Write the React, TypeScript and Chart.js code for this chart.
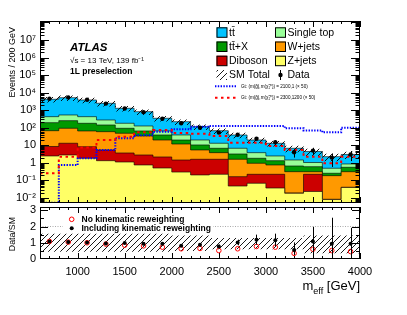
import React, { useEffect, useRef } from 'react';
import { Chart, registerables } from 'chart.js';

Chart.register(...registerables);

const FONT = "'Liberation Sans', Arial, Helvetica, sans-serif";

// ---------------- data ----------------
const binEdges = [600, 800, 1000, 1200, 1400, 1600, 1800, 2000, 2200, 2400, 2600, 2800, 3000, 3200, 3400, 3600, 3800, 4000];

// background components (events / 200 GeV), stacked bottom -> top
const zJets = [2.47, 2.82, 1.83, 1.33, 1.12, 0.76, 0.51, 0.3, 0.205, 0.224, 0.048, 0.069, 0.037, 0.0186, 0.0235, 0.0082, 0.04];
const diboson = [6.1, 10.3, 6.54, 4.1, 2.54, 2.06, 1.66, 1.16, 1.4, 1.38, 0.116, 0.155, 0.187, 0.0007, 0.2, 0.0003, 0.0008];
const wJets = [59.4, 80.3, 57.2, 54.4, 44.8, 31.2, 17.9, 10.4, 3.83, 2.21, 1.44, 0.725, 0.535, 0.296, 0.091, 0.179, 0.274];
const ttbarX = [127, 160, 114, 84, 44.9, 31.6, 18.7, 8.2, 5.07, 2.97, 1.61, 0.88, 0.57, 0.351, 0.293, 0.069, 0.246];
const singleTop = [233, 281, 248, 133, 86.6, 60.4, 26.8, 18.7, 9.6, 6.32, 3.57, 1.98, 1.14, 0.794, 0.442, 0.237, 0.305];
const ttbar = [3762, 4626, 3392, 2200, 1106, 698, 281, 183, 95, 55.1, 32.0, 16.3, 10.6, 5.32, 3.41, 1.76, 2.14];

const dataCounts = [4525, 5366, 3896, 2378, 1260, 775, 326, 180, 101, 53, 40, 24, 15, 4, 5, 2, 3];

// relative SM uncertainty shown as hatched band in the upper panel
const smUncRel = [0.35, 0.35, 0.35, 0.35, 0.35, 0.35, 0.35, 0.35, 0.35, 0.35, 0.35, 0.35, 0.35, 0.4, 0.45, 0.45, 0.45];

// signals (x 50)
const signalGt2100 = [0.0053, 0.76, 1.83, 5.4, 25, 38, 60, 82, 115, 126, 126, 126, 126, 94, 69, 55, 101];
const signalGt2300 = [0.26, 2.25, 7.5, 20, 31, 55, 75, 50, 46, 34, 14.2, 14.2, 9.2, 5.4, 2.25, 0.95, 2.25];

// ratio panel
const ratioReweighted = [1.08, 1.04, 1.02, 0.96, 0.98, 0.94, 0.94, 0.81, 0.875, 0.77, 1.02, 1.19, 1.15, 0.56, 1.08, 0.94, 0.94];
const ratioErrUp = [0.02, 0.02, 0.02, 0.025, 0.03, 0.04, 0.06, 0.07, 0.1, 0.12, 0.17, 0.31, 0.41, 0.46, 0.9, 1.6, 0.98];
const ratioErrDown = [0.02, 0.02, 0.02, 0.025, 0.03, 0.04, 0.06, 0.07, 0.1, 0.12, 0.17, 0.31, 0.38, 0.31, 0.73, 0.9, 0.9];
const ratioNoReweight = [1.08, 1.04, 1.0, 0.92, 0.85, 0.81, 0.73, 0.63, 0.65, 0.52, 0.63, 0.77, 0.73, 0.35, 0.6, 0.52, 0.46];
const ratioBandLo = [0.45, 0.45, 0.45, 0.45, 0.45, 0.45, 0.45, 0.5, 0.5, 0.6, 0.6, 0.6, 0.6, 0.6, 0.35, 0.35, 0.35];
const ratioBandHi = [1.55, 1.55, 1.55, 1.55, 1.55, 1.55, 1.55, 1.45, 1.45, 1.3, 1.3, 1.3, 1.3, 1.3, 1.45, 1.45, 1.45];

// axis ticks
const yTicksMain = [1e-2, 1e-1, 1, 10, 1e2, 1e3, 1e4, 1e5, 1e6, 1e7];
const xTickLabels = [1000, 1500, 2000, 2500, 3000, 3500, 4000];
const yTicksRatio = [0, 1, 2, 3];

const layerNames = ['Z+jets', 'Diboson', 'W+jets', 'tt\u0304+X', 'Single top', 'tt\u0304'];
const layerColors = ['#ffff66', '#cc0000', '#ff9900', '#009900', '#99ff99', '#00c3ff'];
const layers = [zJets, diboson, wJets, ttbarX, singleTop, ttbar];

// ---------------- helpers ----------------
const X_MIN = 600;
const X_MAX = 4000;
const Y_MIN = 0.00519;
const Y_MAX = 1.2e8;

const binCenters = binEdges.slice(0, -1).map((e, i) => (e + binEdges[i + 1]) / 2);
const steps = (vals: number[]) => binEdges.map((x, i) => ({ x, y: vals[Math.min(i, vals.length - 1)] }));

const cumulative: number[][] = [];
{
  let run = new Array(binCenters.length).fill(0);
  layers.forEach((l) => {
    run = run.map((v: number, i: number) => v + l[i]);
    cumulative.push(run);
  });
}
const smTotal = cumulative[cumulative.length - 1];

const SUP: Record<string, string> = { '-': '\u207b', '0': '\u2070', '1': '\u00b9', '2': '\u00b2', '3': '\u00b3', '4': '\u2074', '5': '\u2075', '6': '\u2076', '7': '\u2077', '8': '\u2078', '9': '\u2079' };
function logLabel(v: number) {
  const e = Math.round(Math.log10(v));
  if (e === 0) return '1';
  if (e === 1) return '10';
  return '10' + String(e).split('').map((c) => SUP[c]).join('');
}

function makeHatch(): any {
  const c = document.createElement('canvas');
  c.width = 6;
  c.height = 6;
  const g = c.getContext('2d')!;
  g.strokeStyle = '#000';
  g.lineWidth = 0.9;
  g.beginPath();
  g.moveTo(-1, 7);
  g.lineTo(7, -1);
  g.moveTo(-1, 1);
  g.lineTo(1, -1);
  g.moveTo(5, 7);
  g.lineTo(7, 5);
  g.stroke();
  return g.createPattern(c, 'repeat');
}

interface TickCfg {
  xMajor: number;
  xMinor: number;
  yMajor: number;
  yMinor: number;
  yTicks: [number, boolean][];
}

function drawFrameAndTicks(chart: any, cfg: TickCfg) {
  const { ctx, chartArea: a } = chart;
  const xs = chart.scales.x;
  const ys = chart.scales.y;
  ctx.save();
  ctx.strokeStyle = '#000';
  ctx.lineWidth = 1;
  ctx.beginPath();
  for (let v = X_MIN; v <= X_MAX; v += 100) {
    const px = Math.round(xs.getPixelForValue(v)) + 0.5;
    const len = v % 500 === 0 ? cfg.xMajor : cfg.xMinor;
    ctx.moveTo(px, a.bottom);
    ctx.lineTo(px, a.bottom - len);
    ctx.moveTo(px, a.top);
    ctx.lineTo(px, a.top + len);
  }
  cfg.yTicks.forEach(([v, major]) => {
    const py = Math.round(ys.getPixelForValue(v)) + 0.5;
    if (py < a.top || py > a.bottom) return;
    const len = major ? cfg.yMajor : cfg.yMinor;
    ctx.moveTo(a.left, py);
    ctx.lineTo(a.left + len, py);
    ctx.moveTo(a.right, py);
    ctx.lineTo(a.right - len, py);
  });
  ctx.stroke();
  ctx.strokeRect(a.left + 0.5, a.top + 0.5, a.right - a.left - 1, a.bottom - a.top - 1);
  ctx.restore();
}

function drawVerticalTitle(ctx: any, text: string, x: number, yEnd: number, size: number) {
  ctx.save();
  ctx.translate(x, yEnd);
  ctx.rotate(-Math.PI / 2);
  ctx.font = `${size}px ${FONT}`;
  ctx.fillStyle = '#000';
  ctx.textAlign = 'right';
  ctx.textBaseline = 'alphabetic';
  ctx.fillText(text, 0, 0);
  ctx.restore();
}

// ---------------- main panel ----------------
function mainConfig(hatch: any): any {
  const datasets: any[] = [];
  for (let k = layers.length - 1; k >= 0; k--) {
    datasets.push({
      label: layerNames[k],
      data: steps(cumulative[k]),
      backgroundColor: layerColors[k],
      borderColor: 'rgba(0,0,0,0.6)',
      borderWidth: 1,
      fill: 'start',
      stepped: true,
      pointRadius: 0,
      order: 20 + k,
    });
  }
  const lowerIndex = datasets.length;
  datasets.push({
    label: 'bandLo',
    data: steps(smTotal.map((v, i) => v * (1 - smUncRel[i]))),
    borderWidth: 0,
    borderColor: 'rgba(0,0,0,0)',
    fill: false,
    stepped: true,
    pointRadius: 0,
    order: 10,
  });
  datasets.push({
    label: 'SM Total',
    data: steps(smTotal.map((v, i) => v * (1 + smUncRel[i]))),
    borderWidth: 0,
    borderColor: 'rgba(0,0,0,0)',
    backgroundColor: hatch,
    fill: { target: lowerIndex },
    stepped: true,
    pointRadius: 0,
    order: 10,
  });
  datasets.push({
    label: 'Gt 2100,1',
    data: steps(signalGt2100),
    borderColor: '#0000ff',
    borderWidth: 2,
    borderDash: [1.4, 1.4],
    fill: false,
    stepped: true,
    pointRadius: 0,
    order: 5,
  });
  datasets.push({
    label: 'Gt 2300,1200',
    data: steps(signalGt2300),
    borderColor: '#ff0000',
    borderWidth: 2,
    borderDash: [2.5, 3.5],
    fill: false,
    stepped: true,
    pointRadius: 0,
    order: 4,
  });
  datasets.push({
    label: 'Data',
    data: binCenters.map((x, i) => ({ x, y: dataCounts[i] })),
    showLine: false,
    pointRadius: 2.2,
    pointBackgroundColor: '#000',
    pointBorderWidth: 0,
    order: 0,
  });

  const minorLog: [number, boolean][] = [];
  for (let e = -3; e <= 8; e++) {
    for (let m = 1; m <= 9; m++) minorLog.push([m * Math.pow(10, e), m === 1]);
  }

  const decor = {
    id: 'mainDecor',
    beforeDatasetDraw(chart: any, args: any) {
      const ds = chart.data.datasets[args.index];
      if (ds.label !== 'Data') return;
      const { ctx, chartArea: a } = chart;
      const xs = chart.scales.x;
      const ys = chart.scales.y;
      ctx.save();
      ctx.beginPath();
      ctx.rect(a.left, a.top, a.right - a.left, a.bottom - a.top);
      ctx.clip();
      ctx.strokeStyle = '#000';
      ctx.lineWidth = 1;
      ctx.beginPath();
      binCenters.forEach((c, i) => {
        const n = dataCounts[i];
        const s = Math.sqrt(n);
        const px = Math.round(xs.getPixelForValue(c)) + 0.5;
        ctx.moveTo(px, ys.getPixelForValue(n + s));
        ctx.lineTo(px, ys.getPixelForValue(Math.max(n - s, Y_MIN)));
      });
      ctx.stroke();
      ctx.restore();
    },
    afterDraw(chart: any) {
      const { ctx } = chart;
      drawFrameAndTicks(chart, { xMajor: 6, xMinor: 3, yMajor: 9, yMinor: 4.5, yTicks: minorLog });

      ctx.save();
      ctx.fillStyle = '#000';
      ctx.textBaseline = 'alphabetic';
      ctx.textAlign = 'left';
      ctx.font = `italic bold 11.5px ${FONT}`;
      ctx.fillText('ATLAS', 70, 50.5);
      ctx.font = `8px ${FONT}`;
      ctx.fillText('\u221as = 13 TeV, 139 fb\u207b\u00b9', 70, 62.5);
      ctx.font = `bold 8.5px ${FONT}`;
      ctx.fillText('1L preselection', 70, 74);

      // legend
      const col1 = 216.5;
      const col2 = 275;
      const rows = [32.3, 46.5, 60.7, 75, 86.3, 97.7];
      const boxes: [number, number, number][] = [
        [col1, rows[0], 5],
        [col2, rows[0], 4],
        [col1, rows[1], 3],
        [col2, rows[1], 2],
        [col1, rows[2], 1],
        [col2, rows[2], 0],
      ];
      ctx.font = `10.5px ${FONT}`;
      ctx.textBaseline = 'middle';
      boxes.forEach(([x, y, k]) => {
        ctx.fillStyle = layerColors[k];
        ctx.fillRect(x, y - 5, 10.5, 10);
        ctx.strokeStyle = '#000';
        ctx.lineWidth = 1;
        ctx.strokeRect(x + 0.5, y - 4.5, 10, 9.5);
        ctx.fillStyle = '#000';
        ctx.fillText(layerNames[k], x + 12.5, y + 0.5);
      });
      // SM total
      ctx.fillStyle = hatch;
      ctx.fillRect(col1, rows[3] - 5, 10.5, 10);
      ctx.fillStyle = '#000';
      ctx.fillText('SM Total', col1 + 12.5, rows[3] + 0.5);
      // Data
      ctx.strokeStyle = '#000';
      ctx.beginPath();
      ctx.moveTo(col2 + 5.5, rows[3] - 5);
      ctx.lineTo(col2 + 5.5, rows[3] + 5);
      ctx.stroke();
      ctx.beginPath();
      ctx.arc(col2 + 5.5, rows[3], 2.2, 0, Math.PI * 2);
      ctx.fill();
      ctx.fillText('Data', col2 + 12.5, rows[3] + 0.5);
      // signals
      ctx.lineWidth = 2;
      ctx.strokeStyle = '#0000ff';
      ctx.setLineDash([1.4, 1.4]);
      ctx.beginPath();
      ctx.moveTo(215, rows[4]);
      ctx.lineTo(236, rows[4]);
      ctx.stroke();
      ctx.strokeStyle = '#ff0000';
      ctx.setLineDash([2.5, 3.5]);
      ctx.beginPath();
      ctx.moveTo(215, rows[5]);
      ctx.lineTo(236, rows[5]);
      ctx.stroke();
      ctx.setLineDash([]);
      ctx.font = `4.6px ${FONT}`;
      ctx.fillStyle = '#000';
      ctx.fillText('Gt: (m(g\u0303),m(\u03c7\u0303\u2081\u2070)) = 2100,1 (\u00d7 50)', 241, rows[4]);
      ctx.fillText('Gt: (m(g\u0303),m(\u03c7\u0303\u2081\u2070)) = 2300,1200 (\u00d7 50)', 241, rows[5]);
      ctx.restore();

      drawVerticalTitle(ctx, 'Events / 200 GeV', 15, 27, 9);
    },
  };

  return {
    type: 'line',
    data: { datasets },
    options: {
      responsive: false,
      animation: false,
      events: [],
      layout: { padding: { top: 21, right: 47, bottom: 112, left: 0 } },
      plugins: { legend: { display: false }, tooltip: { enabled: false } },
      scales: {
        x: { type: 'linear', min: X_MIN, max: X_MAX, display: false },
        y: {
          type: 'logarithmic',
          min: Y_MIN,
          max: Y_MAX,
          position: 'left',
          afterFit: (s: any) => {
            s.width = 40;
          },
          afterBuildTicks: (s: any) => {
            s.ticks = yTicksMain.map((v) => ({ value: v }));
          },
          ticks: {
            autoSkip: false,
            padding: 4,
            color: '#000',
            font: { family: FONT, size: 11 },
            callback: (v: any) => logLabel(Number(v)),
          },
          grid: { display: false, drawTicks: false },
          border: { display: false },
        },
      },
    },
    plugins: [decor],
  };
}

// ---------------- ratio panel ----------------
function ratioConfig(hatch: any): any {
  const datasets: any[] = [
    {
      label: 'bandLo',
      data: steps(ratioBandLo),
      borderWidth: 0,
      borderColor: 'rgba(0,0,0,0)',
      fill: false,
      stepped: true,
      pointRadius: 0,
      order: 10,
    },
    {
      label: 'bandHi',
      data: steps(ratioBandHi),
      borderWidth: 0,
      borderColor: 'rgba(0,0,0,0)',
      backgroundColor: hatch,
      fill: { target: 0 },
      stepped: true,
      pointRadius: 0,
      order: 10,
    },
    {
      label: 'ref2',
      data: [
        { x: X_MIN, y: 2 },
        { x: X_MAX, y: 2 },
      ],
      borderColor: '#aaaaaa',
      borderWidth: 1,
      borderDash: [1, 1.5],
      fill: false,
      pointRadius: 0,
      order: 9,
    },
    {
      label: 'noRW',
      data: binCenters.map((x, i) => ({ x, y: ratioNoReweight[i] })),
      showLine: false,
      pointRadius: 2.3,
      pointBorderColor: '#ff0000',
      pointBackgroundColor: 'rgba(255,255,255,0)',
      pointBorderWidth: 1,
      order: 3,
    },
    {
      label: 'RW',
      data: binCenters.map((x, i) => ({ x, y: ratioReweighted[i] })),
      showLine: false,
      pointRadius: 2,
      pointBackgroundColor: '#000',
      pointBorderWidth: 0,
      order: 1,
    },
  ];

  const yTicks: [number, boolean][] = [];
  for (let v = 0; v <= 3.2; v += 0.5) yTicks.push([v, Math.abs(v - Math.round(v)) < 1e-6]);

  const decor = {
    id: 'ratioDecor',
    beforeDatasetDraw(chart: any, args: any) {
      const ds = chart.data.datasets[args.index];
      if (ds.label !== 'RW') return;
      const { ctx, chartArea: a } = chart;
      const xs = chart.scales.x;
      const ys = chart.scales.y;
      ctx.save();
      ctx.beginPath();
      ctx.rect(a.left, a.top, a.right - a.left, a.bottom - a.top);
      ctx.clip();
      ctx.strokeStyle = '#000';
      ctx.lineWidth = 1;
      ctx.beginPath();
      binCenters.forEach((c, i) => {
        const px = Math.round(xs.getPixelForValue(c)) + 0.5;
        ctx.moveTo(px, ys.getPixelForValue(ratioReweighted[i] + ratioErrUp[i]));
        ctx.lineTo(px, ys.getPixelForValue(ratioReweighted[i] - ratioErrDown[i]));
      });
      ctx.stroke();
      ctx.restore();
    },
    afterDraw(chart: any) {
      const { ctx } = chart;
      drawFrameAndTicks(chart, { xMajor: 6, xMinor: 3, yMajor: 8, yMinor: 4, yTicks });

      // legend
      ctx.save();
      ctx.fillStyle = '#fff';
      ctx.fillRect(63, 213, 150, 20);
      ctx.strokeStyle = '#ff0000';
      ctx.lineWidth = 1;
      ctx.beginPath();
      ctx.arc(71.7, 219.3, 2.3, 0, Math.PI * 2);
      ctx.stroke();
      ctx.fillStyle = '#000';
      ctx.beginPath();
      ctx.arc(71.7, 228.3, 2, 0, Math.PI * 2);
      ctx.fill();
      ctx.font = `bold 8.5px ${FONT}`;
      ctx.textBaseline = 'middle';
      ctx.textAlign = 'left';
      ctx.fillText('No kinematic reweighting', 81.5, 219.8);
      ctx.fillText('Including kinematic reweighting', 81.5, 228.8);

      // x title: m_eff [GeV]
      const big = `13px ${FONT}`;
      const small = `9px ${FONT}`;
      ctx.textBaseline = 'alphabetic';
      ctx.font = big;
      const wM = ctx.measureText('m').width;
      const wG = ctx.measureText(' [GeV]').width;
      ctx.font = small;
      const wS = ctx.measureText('eff').width;
      let x = 360 - (wM + wS + wG);
      ctx.font = big;
      ctx.fillText('m', x, 290);
      x += wM;
      ctx.font = small;
      ctx.fillText('eff', x, 293.5);
      x += wS;
      ctx.font = big;
      ctx.fillText(' [GeV]', x, 290);
      ctx.restore();

      drawVerticalTitle(ctx, 'Data/SM', 15, 217, 8.8);
    },
  };

  return {
    type: 'line',
    data: { datasets },
    options: {
      responsive: false,
      animation: false,
      events: [],
      layout: { padding: { top: 207, right: 47, bottom: 0, left: 0 } },
      plugins: { legend: { display: false }, tooltip: { enabled: false } },
      scales: {
        x: {
          type: 'linear',
          min: X_MIN,
          max: X_MAX,
          position: 'bottom',
          afterFit: (s: any) => {
            s.height = 56;
          },
          afterBuildTicks: (s: any) => {
            s.ticks = xTickLabels.map((v) => ({ value: v }));
          },
          ticks: {
            autoSkip: false,
            maxRotation: 0,
            padding: 6,
            color: '#000',
            font: { family: FONT, size: 11 },
            callback: (v: any) => String(v),
          },
          grid: { display: false, drawTicks: false },
          border: { display: false },
        },
        y: {
          type: 'linear',
          min: 0,
          max: 3.2,
          position: 'left',
          afterFit: (s: any) => {
            s.width = 40;
          },
          afterBuildTicks: (s: any) => {
            s.ticks = yTicksRatio.map((v) => ({ value: v }));
          },
          ticks: {
            autoSkip: false,
            padding: 4,
            color: '#000',
            font: { family: FONT, size: 11 },
            callback: (v: any) => String(v),
          },
          grid: { display: false, drawTicks: false },
          border: { display: false },
        },
      },
    },
    plugins: [decor],
  };
}

export default function App() {
  const mainRef = useRef<HTMLCanvasElement>(null);
  const ratioRef = useRef<HTMLCanvasElement>(null);
  useEffect(() => {
    const hatch = makeHatch();
    const c1 = new Chart(mainRef.current as HTMLCanvasElement, mainConfig(hatch));
    const c2 = new Chart(ratioRef.current as HTMLCanvasElement, ratioConfig(hatch));
    return () => {
      c1.destroy();
      c2.destroy();
    };
  }, []);
  return (
    <div style={{ position: 'fixed', left: 0, top: 0, width: 407, height: 315, background: '#fff' }}>
      <canvas ref={mainRef} width={407} height={315} style={{ position: 'absolute', left: 0, top: 0 }} />
      <canvas ref={ratioRef} width={407} height={315} style={{ position: 'absolute', left: 0, top: 0 }} />
    </div>
  );
}
